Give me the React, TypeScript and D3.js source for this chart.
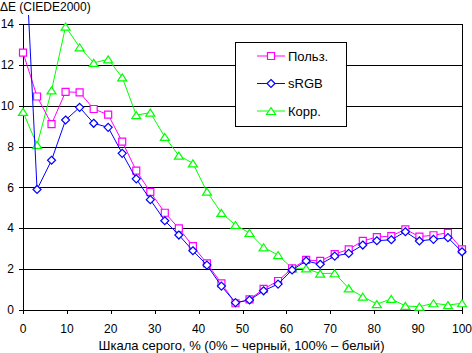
import React from 'react';
import * as d3 from 'd3';

// gray level, % (0..100 in 31 steps)
const grayLevels = [0, 3.2, 6.5, 9.7, 12.9, 16.1, 19.4, 22.6, 25.8, 29, 32.3, 35.5, 38.7, 41.9, 45.2, 48.4,
  51.6, 54.8, 58.1, 61.3, 64.5, 67.7, 71, 74.2, 77.4, 80.6, 83.9, 87.1, 90.3, 93.5, 96.8, 100];

const userValues = [12.6, 10.45, 9.1, 10.68, 10.65, 9.84, 9.56, 8.24, 6.82, 5.78, 4.76, 4.0, 3.13, 2.28, 1.3, 0.33,
  0.52, 1.03, 1.42, 2.04, 2.45, 2.4, 2.74, 2.97, 3.38, 3.57, 3.62, 3.95, 3.59, 3.66, 3.78, 2.97];
const srgbValues = [20, 5.9, 7.33, 9.3, 9.92, 9.14, 8.94, 7.67, 6.42, 5.4, 4.37, 3.67, 2.9, 2.2, 1.17, 0.36,
  0.49, 0.94, 1.27, 1.96, 2.4, 2.24, 2.64, 2.77, 3.18, 3.39, 3.44, 3.83, 3.38, 3.46, 3.54, 2.85];
const corrValues = [9.7, 8.08, 10.75, 13.87, 12.86, 12.1, 12.27, 11.39, 9.54, 9.66, 8.47, 7.56, 7.18, 5.79, 4.75, 4.16,
  3.77, 3.07, 2.69, 2.04, 2.04, 1.78, 1.8, 1.06, 0.65, 0.29, 0.54, 0.2, 0.16, 0.33, 0.24, 0.33];

const xTicks = [0, 10, 20, 30, 40, 50, 60, 70, 80, 90, 100];
const yTicks = [0, 2, 4, 6, 8, 10, 12, 14];

const seriesNames = ['Польз.', 'sRGB', 'Корр.'];

const FONT = '"Liberation Sans", Arial, sans-serif';

const W = 472, H = 353;
const left = 23, right = 462, top = 24, bottom = 310;

const x = d3.scaleLinear().domain([0, 100]).range([left, right]);
const y = d3.scaleLinear().domain([0, 14]).range([bottom, top]);

const crisp = (v: number) => Math.round(v) + 0.5;

const markerPath = (kind: string) => {
  if (kind === 'square') return 'M-3.5,-3.5h7v7h-7z';
  if (kind === 'diamond') return 'M0,-4L4,0L0,4L-4,0Z';
  return 'M0,-3.5L4.5,3.5L-4.5,3.5Z';
};

const series = [
  { name: seriesNames[2], values: corrValues, color: '#00FF00', marker: 'triangle' },
  { name: seriesNames[0], values: userValues, color: '#FF00FF', marker: 'square' },
  { name: seriesNames[1], values: srgbValues, color: '#0000FF', marker: 'diamond' },
];

const legendItems = [
  { name: seriesNames[0], color: '#FF00FF', marker: 'square' },
  { name: seriesNames[1], color: '#0000FF', marker: 'diamond' },
  { name: seriesNames[2], color: '#00FF00', marker: 'triangle' },
];

export default function App() {
  const line = d3.line<number>()
    .x((_, i) => x(grayLevels[i]))
    .y(d => y(d));

  return (
    <svg width={W} height={H} style={{ position: 'absolute', left: 0, top: 0, background: '#fff' }}
      fontFamily={FONT}>
      <defs>
        <clipPath id="plot">
          <rect x={left - 6} y={15} width={right - left + 12} height={bottom - 15 + 6} />
        </clipPath>
      </defs>

      {/* gridlines */}
      {yTicks.filter(t => t > 0).map(t => (
        <line key={t} x1={left} x2={right + 1} y1={crisp(y(t))} y2={crisp(y(t))} stroke="#000" />
      ))}
      <line x1={crisp(right)} x2={crisp(right)} y1={crisp(y(14))} y2={crisp(bottom)} stroke="#000" />

      {/* axes */}
      <line x1={crisp(left)} x2={crisp(left)} y1={crisp(y(14))} y2={crisp(bottom)} stroke="#000" />
      <line x1={left - 4} x2={right + 1} y1={crisp(bottom)} y2={crisp(bottom)} stroke="#000" />
      {yTicks.map(t => (
        <g key={t}>
          <line x1={left - 4} x2={left} y1={crisp(y(t))} y2={crisp(y(t))} stroke="#000" />
          <text x={14} y={y(t)} dy="0.35em" textAnchor="end" fontSize={12}>{t}</text>
        </g>
      ))}
      {xTicks.map(t => (
        <g key={t}>
          <line x1={crisp(x(t))} x2={crisp(x(t))} y1={bottom} y2={bottom + 4} stroke="#000" />
          <text x={x(t)} y={333} textAnchor="middle" fontSize={12}>{t}</text>
        </g>
      ))}

      <text x={0} y={11} fontSize={12}>ΔE (CIEDE2000)</text>
      <text x={241.5} y={350} textAnchor="middle" fontSize={13}>Шкала серого, % (0% – черный, 100% – белый)</text>

      {/* series */}
      <g clipPath="url(#plot)">
        {series.map(s => (
          <g key={s.name}>
            <path d={line(s.values) || ''} fill="none" stroke={s.color} strokeWidth={1} />
            {s.values.map((v, i) => (
              <path key={i} d={markerPath(s.marker)} transform={`translate(${x(grayLevels[i])},${y(v)})`}
                fill="#fff" stroke={s.color} strokeWidth={1.2} />
            ))}
          </g>
        ))}
      </g>

      {/* legend */}
      <rect x={235.5} y={42.5} width={111} height={84} fill="#fff" stroke="#000" />
      {legendItems.map((it, i) => {
        const ly = 56 + i * 27.5;
        return (
          <g key={it.name}>
            <line x1={257} x2={285} y1={ly} y2={ly} stroke={it.color} />
            <path d={markerPath(it.marker)} transform={`translate(271,${ly})`} fill="#fff" stroke={it.color} strokeWidth={1.2} />
            <text x={288} y={ly} dy="0.35em" fontSize={13}>{it.name}</text>
          </g>
        );
      })}
    </svg>
  );
}
